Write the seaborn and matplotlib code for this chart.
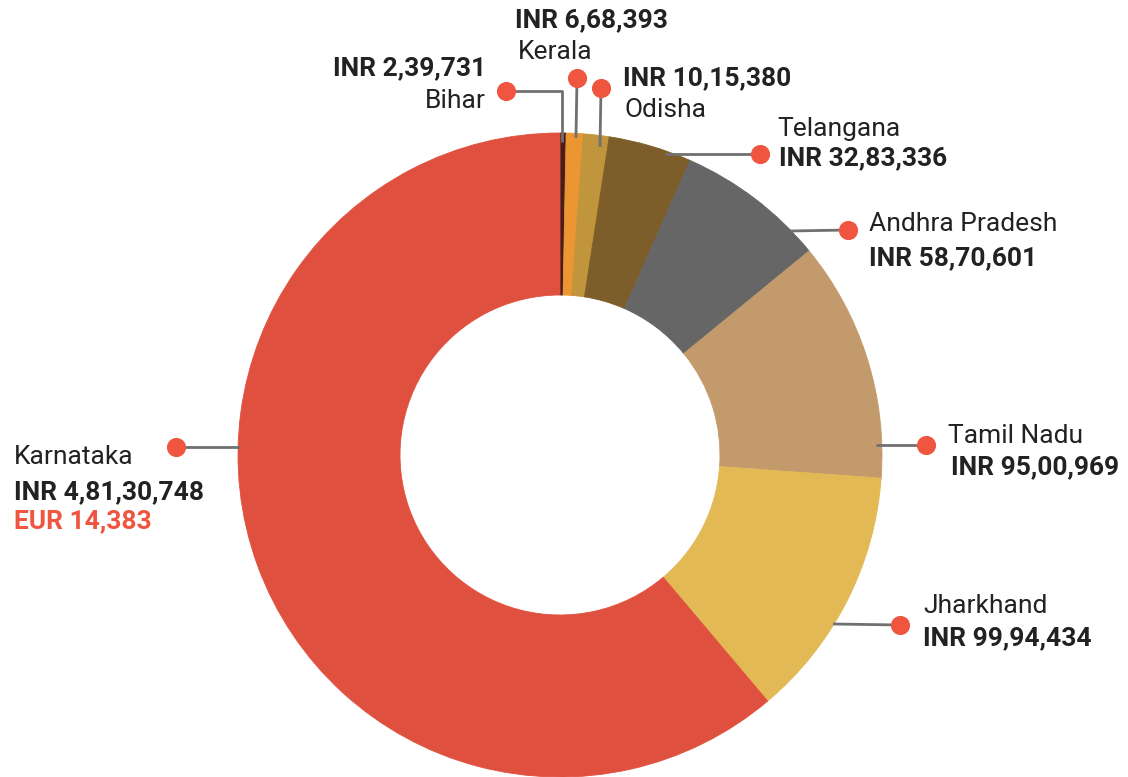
import matplotlib
matplotlib.use("Agg")
import matplotlib.pyplot as plt
import seaborn as sns

# ---- data ----
states = ["Bihar", "Kerala", "Odisha", "Telangana", "Andhra Pradesh",
          "Tamil Nadu", "Jharkhand", "Karnataka"]
amounts_inr = [239731, 668393, 1015380, 3283336, 5870601, 9500969, 9994434, 48130748]
amount_labels = ["INR 2,39,731", "INR 6,68,393", "INR 10,15,380", "INR 32,83,336",
                 "INR 58,70,601", "INR 95,00,969", "INR 99,94,434", "INR 4,81,30,748"]
karnataka_eur = "EUR 14,383"
slice_colors = ["#4A1E18", "#EC9533", "#C1953C", "#7D5E2A", "#666666",
                "#C29A6C", "#E3B955", "#E0503F"]

sns.set_theme(style="white")
plt.rcParams["font.family"] = ["Roboto", "DejaVu Sans"]

W, H = 1128, 777
fig = plt.figure(figsize=(W / 100, H / 100), dpi=100)
ax = fig.add_axes([0, 0, 1, 1])

palette = sns.color_palette(slice_colors)
cx, cy = 560, 455
R = 322
ax.pie(amounts_inr, colors=palette, startangle=90, counterclock=False,
       radius=R, center=(cx, H - cy),
       wedgeprops=dict(width=R - 160, linewidth=0.6, edgecolor=None))
for w in ax.patches:
    w.set_edgecolor(w.get_facecolor())

ax.set_xlim(0, W)
ax.set_ylim(0, H)
ax.set_aspect("equal")
ax.axis("off")

DOT = "#F05540"
LINE = "#707070"
TXT = "#222222"

def Y(y):
    return H - y

def leader(pts, dot):
    xs = [p[0] for p in pts] + [dot[0]]
    ys = [Y(p[1]) for p in pts] + [Y(dot[1])]
    ax.plot(xs, ys, color=LINE, lw=2, solid_capstyle="butt", zorder=3)
    ax.scatter([dot[0]], [Y(dot[1])], s=190, color=DOT, zorder=4, linewidths=0)

# leader lines (layout)
leader([(562, 142), (562, 91)], (506, 91))            # Bihar
leader([(576, 138)], (577, 78))                        # Kerala
leader([(600, 147)], (601, 88))                        # Odisha
leader([(665, 154)], (760, 154))                       # Telangana
leader([(790, 231)], (848, 230))                       # Andhra Pradesh
leader([(876, 445)], (926, 445))                       # Tamil Nadu
leader([(833, 624)], (900, 625))                       # Jharkhand
leader([(240, 447)], (176, 447))                       # Karnataka

FS = 19
FB = 19

def lab(x, y, s, bold=False, ha="left", color=TXT):
    ax.text(x, Y(y), s, fontsize=FB if bold else FS,
            fontweight="bold" if bold else "normal",
            ha=ha, va="center", color=color, zorder=5)

# Bihar
lab(486, 68, amount_labels[0], bold=True, ha="right")
lab(486, 101, states[0], ha="right")
# Kerala
lab(515, 20, amount_labels[1], bold=True)
lab(518, 52, states[1])
# Odisha
lab(623, 78, amount_labels[2], bold=True)
lab(624, 110, states[2])
# Telangana
lab(777, 129, states[3])
lab(779, 158, amount_labels[3], bold=True)
# Andhra Pradesh
lab(869, 224, states[4])
lab(869, 258, amount_labels[4], bold=True)
# Tamil Nadu
lab(948, 436, states[5])
lab(951, 467, amount_labels[5], bold=True)
# Jharkhand
lab(923, 606, states[6])
lab(923, 638, amount_labels[6], bold=True)
# Karnataka
lab(14, 457, states[7])
lab(14, 492, amount_labels[7], bold=True)
lab(14, 521, karnataka_eur, bold=True, color=DOT)

fig.savefig("out.png", dpi=100, facecolor="white")
